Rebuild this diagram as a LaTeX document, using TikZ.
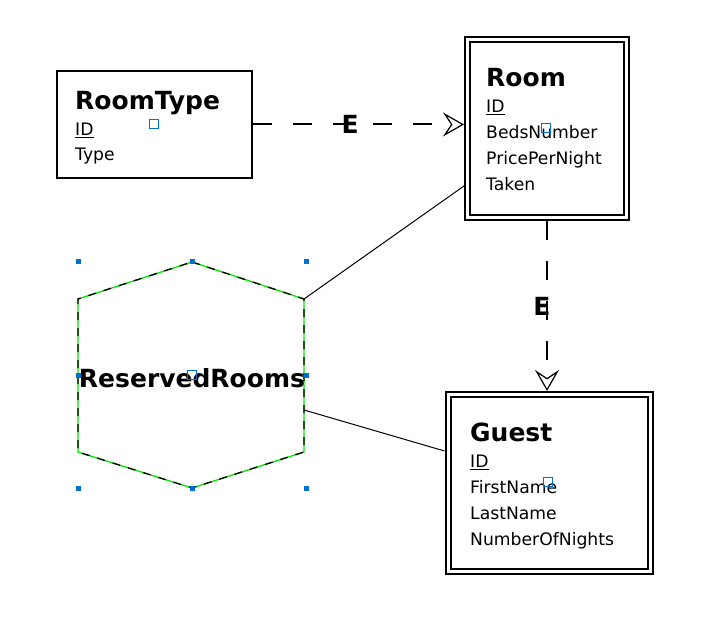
\documentclass[tikz,border=0pt]{standalone}
\usepackage{fontspec}
\setmainfont{DejaVu Sans}
\usetikzlibrary{arrows.meta, positioning, calc}
\definecolor{handleblue}{RGB}{0,114,206}
\definecolor{hexgreen}{RGB}{0,230,0}
\tikzset{%
	entity/.style={
		draw,
		line width=2pt,
		inner sep=0pt,
		outer sep=1pt
	},
	weak entity/.style={
		draw,
		line width=2pt,
		double,
		double distance=3pt,
		inner sep=0pt,
		outer sep=3.5pt
	},
	title/.style={anchor=base west, inner sep=0pt, font=\fontsize{25}{25}\selectfont\bfseries},
	attr/.style={anchor=base west, inner sep=0pt, font=\fontsize{17.2}{20}\selectfont},
	elabel/.style={inner sep=0pt, font=\fontsize{25}{25}\selectfont\bfseries},
	chevron/.tip={Stealth[open, length=21pt, width=24pt, inset=8pt, line width=1.2pt]},
	rel/.style={
		line width=2pt,
		dash pattern=on 19pt off 21pt,
		-chevron
	},
	link/.style={line width=1pt},
	hexline/.style={line width=1.3pt},
	handle/.style={fill=handleblue, draw=none, minimum size=5pt, inner sep=0pt},
	marker/.style={draw=handleblue, line width=1.2pt, minimum size=9pt, inner sep=0pt},
}
\begin{document}
\begin{tikzpicture}[x=1pt, y=-1pt]
	\useasboundingbox (0,0) rectangle (724,636);
	
	% Entity boxes
	\node[entity, minimum width=195pt, minimum height=107pt] (roomtype) at (154.5,124.5) {};
	\node[weak entity, minimum width=159pt, minimum height=177.5pt] (room) at (547,128.75) {};
	\node[weak entity, minimum width=202pt, minimum height=177.5pt] (guest) at (549,483.25) {};
	
	% RoomType texts
	\node[title] (rt-title) at (75,110) {RoomType};
	\node[attr] (rt-id) at (75,136) {\underline{ID}};
	\node[attr] (rt-type) at (75,161) {Type};
	
	% Room texts
	\node[title] (room-title) at (486,87) {Room};
	\node[attr] (room-id) at (486,113) {\underline{ID}};
	\node[attr] (room-beds) at (486,139) {BedsNumber};
	\node[attr] (room-price) at (486,165) {PricePerNight};
	\node[attr] (room-taken) at (486,191) {Taken};
	
	% Guest texts
	\node[title] (guest-title) at (470,442) {Guest};
	\node[attr] (guest-id) at (470,468) {\underline{ID}};
	\node[attr] (guest-first) at (470,494) {FirstName};
	\node[attr] (guest-last) at (470,520) {LastName};
	\node[attr] (guest-nights) at (470,546) {NumberOfNights};
	
	% Relationship hexagon
	\coordinate (hexc) at (192,375);
	\coordinate (hexN) at ($(hexc)+(0,-113)$);
	\coordinate (hexNE) at ($(hexc)+(112,-76)$);
	\coordinate (hexSE) at ($(hexc)+(112,77)$);
	\coordinate (hexS) at ($(hexc)+(0,113)$);
	\coordinate (hexSW) at ($(hexc)+(-114,77)$);
	\coordinate (hexNW) at ($(hexc)+(-114,-76)$);
	\draw[hexline, hexgreen] (hexN) -- (hexNE) -- (hexSE) -- (hexS) -- (hexSW) -- (hexNW) -- cycle;
	\draw[hexline, dash pattern=on 8pt off 8pt] (hexN) -- (hexNE) -- (hexSE) -- (hexS) -- (hexSW) -- (hexNW) -- cycle;
	\node[elabel] (reserved) at (192,378) {ReservedRooms};
	
	% Selection handles
	\foreach \hx/\hy [count=\i] in {78/262, 192/262, 306/262, 78/376, 306/376, 78/489, 192/489, 306/489}
		\node[handle] (handle\i) at (\hx,\hy) {};
	
	% Centre markers
	\node[marker] (rt-mark) at (154,124) {};
	\node[marker] (room-mark) at (546,128) {};
	\node[marker] (guest-mark) at (548,482) {};
	\node[marker] (reserved-mark) at (192,375) {};
	
	% Dependency arrows
	\draw[rel] (roomtype.east) -- (roomtype.east -| room.west) node[elabel, pos=0.46] (e-top) {E};
	\draw[rel] (room.south) -- (room.south |- guest.north) node[elabel, pos=0.5, xshift=-5pt] (e-side) {E};
	
	% Links to the relationship
	\draw[link] (hexNE) -- ($(room.south west)+(0,-35)$);
	\draw[link] ($(hexSE)+(0,-42)$) -- ($(guest.north west)+(0,60)$);
\end{tikzpicture}
\end{document}
